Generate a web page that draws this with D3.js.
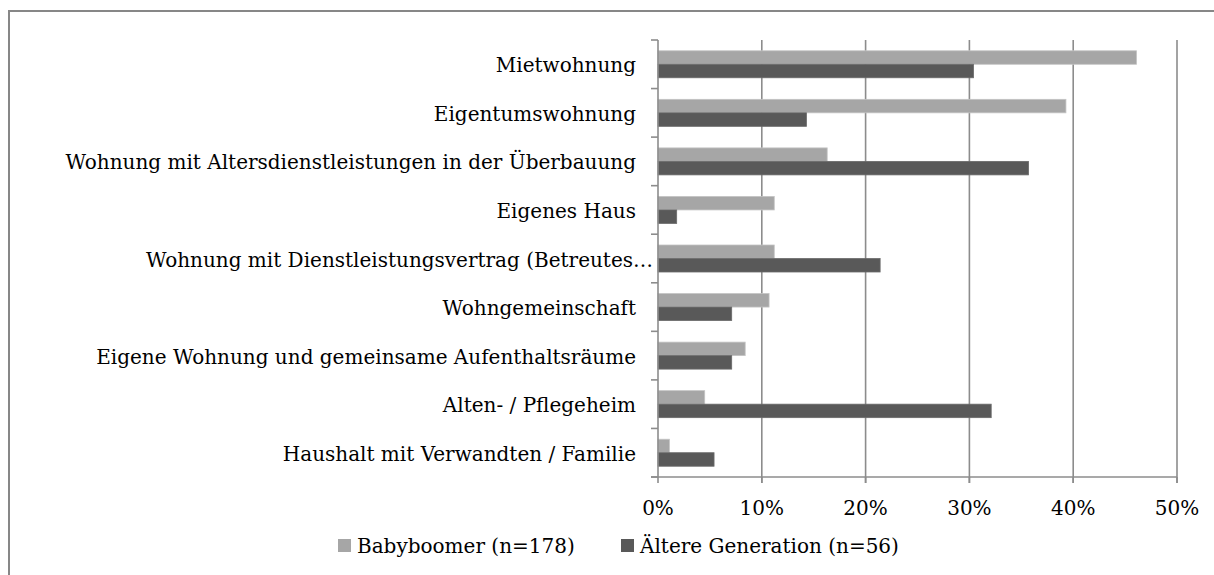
<!DOCTYPE html>
<html>
<head>
<meta charset="utf-8">
<script src="https://cdn.jsdelivr.net/npm/d3@7"></script>
<style>
  html, body { margin: 0; padding: 0; background: #fff; }
  svg { display: block; }
  text { font-family: "DejaVu Serif", "Liberation Serif", serif; fill: #000; }
</style>
</head>
<body>
<svg id="chart" width="1214" height="575"></svg>
<script>
// Wohnformen: Anteile je Generation (in %)
const categories = [
  "Mietwohnung",
  "Eigentumswohnung",
  "Wohnung mit Altersdienstleistungen in der Überbauung",
  "Eigenes Haus",
  "Wohnung mit Dienstleistungsvertrag (Betreutes…",
  "Wohngemeinschaft",
  "Eigene Wohnung und gemeinsame Aufenthaltsräume",
  "Alten- / Pflegeheim",
  "Haushalt mit Verwandten / Familie"
];
const babyboomer = [46.1, 39.3, 16.3, 11.2, 11.2, 10.7, 8.4, 4.5, 1.1];
const aeltere    = [30.4, 14.3, 35.7, 1.8, 21.4, 7.1, 7.1, 32.1, 5.4];
const seriesNames = ["Babyboomer (n=178)", "Ältere Generation (n=56)"];
const tickValues = [0, 10, 20, 30, 40, 50];

const colors = ["#a6a6a6", "#595959"];
const gridColor = "#8c8c8c";

const svg = d3.select("#chart");

// Frame around the chart area (right and bottom edges run off the canvas)
svg.append("rect")
  .attr("x", 9).attr("y", 11)
  .attr("width", 1400).attr("height", 800)
  .attr("fill", "none")
  .attr("stroke", "#878787")
  .attr("stroke-width", 2);

const plot = { left: 658, right: 1177, top: 40, bottom: 477 };

const x = d3.scaleLinear().domain([0, 50]).range([plot.left, plot.right]);
const y = d3.scaleBand().domain(categories).range([plot.top, plot.bottom]);
const groupFrac = 0.556;
const sub = d3.scaleBand()
  .domain([0, 1])
  .range([0, y.bandwidth() * groupFrac]);
const groupOffset = y.bandwidth() * (1 - groupFrac) / 2;

// Vertical gridlines
svg.append("g")
  .selectAll("line")
  .data(tickValues.filter(d => d > 0))
  .join("line")
  .attr("x1", d => x(d)).attr("x2", d => x(d))
  .attr("y1", plot.top).attr("y2", plot.bottom + 6)
  .attr("stroke", gridColor)
  .attr("stroke-width", 1.6);

// Bars
const rows = categories.map((c, i) => ({ cat: c, values: [babyboomer[i], aeltere[i]] }));
const g = svg.append("g");
rows.forEach(r => {
  g.selectAll(null)
    .data(r.values)
    .join("rect")
    .attr("x", x(0))
    .attr("y", (d, i) => y(r.cat) + groupOffset + sub(i))
    .attr("width", d => x(d) - x(0))
    .attr("height", sub.bandwidth())
    .attr("fill", (d, i) => colors[i])
    .attr("stroke", (d, i) => i === 0 ? "#c4c4c4" : "#6a6a6a")
    .attr("stroke-width", 0.8);
});

// Category axis: line plus ticks at band boundaries
const axisG = svg.append("g");
axisG.append("line")
  .attr("x1", x(0)).attr("x2", x(0))
  .attr("y1", plot.top).attr("y2", plot.bottom)
  .attr("stroke", gridColor).attr("stroke-width", 1.6);
const boundaries = categories.map(c => y(c)).concat([plot.bottom]);
axisG.selectAll(".ytick")
  .data(boundaries)
  .join("line")
  .attr("x1", x(0) - 7).attr("x2", x(0))
  .attr("y1", d => d).attr("y2", d => d)
  .attr("stroke", gridColor).attr("stroke-width", 1.6);

// Value axis along the bottom
axisG.append("line")
  .attr("x1", x(0) - 7).attr("x2", plot.right)
  .attr("y1", plot.bottom).attr("y2", plot.bottom)
  .attr("stroke", gridColor).attr("stroke-width", 1.6);
axisG.selectAll(".xtick")
  .data(tickValues)
  .join("line")
  .attr("x1", d => x(d)).attr("x2", d => x(d))
  .attr("y1", plot.bottom).attr("y2", plot.bottom + 6)
  .attr("stroke", gridColor).attr("stroke-width", 1.6);

svg.append("g")
  .selectAll("text")
  .data(tickValues)
  .join("text")
  .attr("x", d => x(d))
  .attr("y", plot.bottom + 38)
  .attr("text-anchor", "middle")
  .attr("font-size", 20)
  .text(d => d + "%");

// Category labels
svg.append("g")
  .selectAll("text")
  .data(categories)
  .join("text")
  .attr("x", d => x(0) - (d.endsWith("…") ? 5 : 22))
  .attr("y", d => y(d) + y.bandwidth() / 2 + 8)
  .attr("text-anchor", "end")
  .attr("font-size", 20)
  .text(d => d);

// Legend
const legendX = [338, 621];
const legend = svg.append("g");
seriesNames.forEach((name, i) => {
  legend.append("rect")
    .attr("x", legendX[i]).attr("y", 539)
    .attr("width", 13).attr("height", 13)
    .attr("fill", colors[i]);
  legend.append("text")
    .attr("x", legendX[i] + 19).attr("y", 553)
    .attr("font-size", 20)
    .text(name);
});
</script>
</body>
</html>
